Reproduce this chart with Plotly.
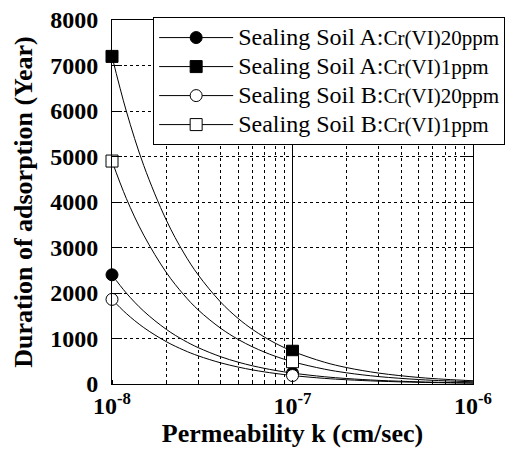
import plotly.graph_objects as go

# Measured data points
k_data = [1e-8, 1e-7, 1e-6]
soilA_20ppm = [2400, 240, 24]
soilA_1ppm = [7200, 720, 72]
soilB_20ppm = [1860, 186, 19]
soilB_1ppm = [4900, 490, 49]

# Trend curves, values
k_curve = [1e-8, 1.2e-8, 1.5e-8, 2e-8, 2.5e-8, 3e-8, 4e-8, 5e-8, 6e-8, 7e-8, 8e-8,
           1e-7, 1.5e-7, 2e-7, 3e-7, 5e-7, 7e-7, 1e-6]
curveA_1ppm = [7200, 6000, 4800, 3600, 2880, 2400, 1800, 1440, 1200, 1030, 900,
               720, 480, 360, 240, 144, 103, 72]
curveB_1ppm = [4900, 4080, 3270, 2450, 1960, 1630, 1225, 980, 817, 700, 612,
               490, 327, 245, 163, 98, 70, 49]
curveA_20ppm = [2400, 2000, 1600, 1200, 960, 800, 600, 480, 400, 343, 300,
                240, 160, 120, 80, 48, 34, 24]
curveB_20ppm = [1860, 1550, 1240, 930, 744, 620, 465, 372, 310, 266, 233,
                186, 124, 93, 62, 37, 27, 19]

names = ["Sealing Soil A:", "Sealing Soil A:", "Sealing Soil B:", "Sealing Soil B:"]
suffixes = ["Cr(VI)20ppm", "Cr(VI)1ppm", "Cr(VI)20ppm", "Cr(VI)1ppm"]

x_ticks = [1e-8, 1e-7, 1e-6]
x_ticktext = ["10<sup>-8</sup>", "10<sup>-7</sup>", "10<sup>-6</sup>"]
y_ticks = [0, 1000, 2000, 3000, 4000, 5000, 6000, 7000, 8000]

series = [
    (soilA_20ppm, curveA_20ppm, "circle", "black"),
    (soilA_1ppm, curveA_1ppm, "square", "black"),
    (soilB_20ppm, curveB_20ppm, "circle", "white"),
    (soilB_1ppm, curveB_1ppm, "square", "white"),
]

fig = go.Figure()
FONT = "Liberation Serif"

# curves
for vals, curve, sym, fill in series:
    fig.add_trace(go.Scatter(x=k_curve, y=curve, mode="lines",
                             line=dict(color="black", width=1, shape="spline"),
                             showlegend=False, hoverinfo="skip"))
# markers
for vals, curve, sym, fill in series:
    fig.add_trace(go.Scatter(x=k_data, y=vals, mode="markers",
                             marker=dict(symbol=sym, size=12,
                                         color=fill, line=dict(color="black", width=1)),
                             showlegend=False, cliponaxis=False))
# legend entries
for (vals, curve, sym, fill), nm, sf in zip(series, names, suffixes):
    fig.add_trace(go.Scatter(x=[None], y=[None], mode="lines+markers",
                             name="<span style='font-size:24px'>" + nm + "</span>"
                                  + "<span style='font-size:21px'>" + sf + "</span>",
                             line=dict(color="black", width=1),
                             marker=dict(symbol=sym, size=12, color=fill,
                                         line=dict(color="black", width=1))))

fig.update_layout(
    width=518, height=450,
    margin=dict(l=112, r=45, t=20, b=66),
    paper_bgcolor="white", plot_bgcolor="white",
    font=dict(family=FONT, color="black"),
    legend=dict(x=0.114, y=1.008, xanchor="left", yanchor="top",
                bgcolor="white", bordercolor="black", borderwidth=1,
                font=dict(family=FONT, size=20, color="black"),
                itemwidth=74, tracegroupgap=0),
    showlegend=True,
)

fig.update_xaxes(
    type="log", range=[-8, -6], automargin=False,
    tickvals=x_ticks, ticktext=x_ticktext,
    tickfont=dict(family=FONT, size=24, color="black", weight="bold"),
    showline=True, linecolor="black", linewidth=1, mirror=True,
    ticks="", showgrid=True, gridcolor="black", gridwidth=1,
    minor=dict(dtick="D1", showgrid=True, gridcolor="black", gridwidth=1,
               griddash="3px,3px", ticks="inside", ticklen=4, tickcolor="black"),
    title=dict(text="Permeability k (cm/sec)", standoff=6,
               font=dict(family=FONT, size=26, color="black", weight="bold")),
    zeroline=False,
)
fig.update_yaxes(
    range=[0, 8000], tickvals=y_ticks, automargin=False,
    tickfont=dict(family=FONT, size=24, color="black", weight="bold"),
    showline=True, linecolor="black", linewidth=1, mirror="ticks",
    ticks="inside", ticklen=10, tickcolor="black", ticklabelstandoff=8,
    showgrid=True, gridcolor="black", gridwidth=1, griddash="3px,3px",
    title=dict(text="Duration of adsorption (Year)", standoff=10,
               font=dict(family=FONT, size=26, color="black", weight="bold")),
    zeroline=False,
)

fig.write_html("out.html")
